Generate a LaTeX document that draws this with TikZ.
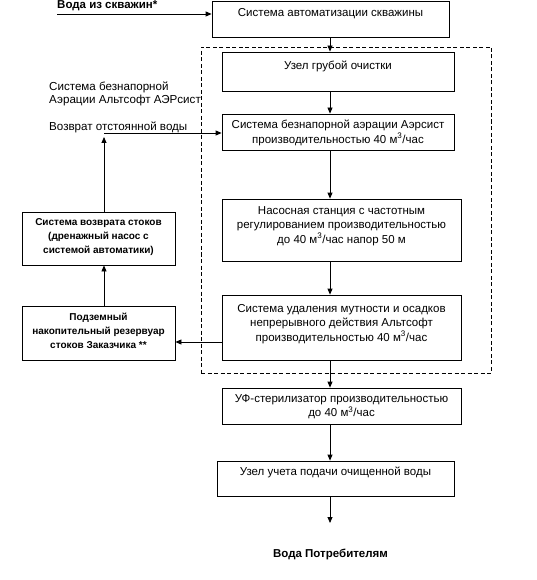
\documentclass[tikz,border=0pt]{standalone}
\usepackage{fontspec}
\setmainfont{Liberation Sans}
\usetikzlibrary{arrows.meta}
\begin{document}
\begin{tikzpicture}[x=1pt,y=-1pt,
  box/.style={draw, line width=0.8pt, inner sep=0pt},
  txt/.style={align=center, inner sep=0pt, font=\fontsize{11.5}{14.3}\selectfont},
  btxt/.style={align=center, inner sep=0pt, font=\fontsize{10}{14}\selectfont\bfseries},
  bigb/.style={inner sep=0pt, font=\fontsize{11.5}{14}\selectfont\bfseries},
  arr/.style={line width=0.8pt, -{Triangle[length=6pt,width=5pt]}}]
\useasboundingbox (0,0) rectangle (536,580);
% dashed frame
\node[box, dashed, dash pattern=on 4pt off 2.5pt, minimum width=290pt, minimum height=326pt] (frame) at (346,210) {};
% boxes
\node[box, minimum width=237pt, minimum height=36pt] (top) at (330.5,19) {};
\node[box, minimum width=232pt, minimum height=39pt] (grub) at (338,71.5) {};
\node[box, minimum width=232pt, minimum height=36pt] (aer) at (338,132) {};
\node[box, minimum width=239pt, minimum height=62pt] (nas) at (341.5,230) {};
\node[box, minimum width=239pt, minimum height=65pt] (udal) at (341.5,327.5) {};
\node[box, minimum width=239pt, minimum height=36pt] (uf) at (341.5,406) {};
\node[box, minimum width=237pt, minimum height=35pt] (uch) at (335.5,478.5) {};
\node[box, minimum width=153pt, minimum height=53pt] (ret) at (98.5,238.5) {};
\node[box, minimum width=153pt, minimum height=54pt] (tank) at (98.5,333) {};
% texts in boxes
\node[txt] (ttop) at (330.5,14) {Система автоматизации скважины};
\node[txt] (tgrub) at (338,66) {Узел грубой очистки};
\node[txt] (taer) at (338,133) {Система безнапорной аэрации Аэрсист\\производительностью 40 м\textsuperscript{3}/час};
\node[txt] (tnas) at (341.5,226) {Насосная станция с частотным\\регулированием производительностью\\до 40 м\textsuperscript{3}/час напор 50 м};
\node[txt] (tudal) at (341.5,324) {Система удаления мутности и осадков\\непрерывного действия Альтсофт\\производительностью 40 м\textsuperscript{3}/час};
\node[txt] (tuf) at (341.5,407) {УФ-стерилизатор производительностью\\до 40 м\textsuperscript{3}/час};
\node[txt] (tuch) at (335.5,472) {Узел учета подачи очищенной воды};
\node[btxt] (tret) at (98.5,237) {Система возврата стоков\\(дренажный насос с\\системой автоматики)};
\node[btxt] (ttank) at (98.5,331) {Подземный\\накопительный резервуар\\стоков Заказчика **};
% free labels
\node[bigb, anchor=west] (lsrc) at (57,6) {Вода из скважин*};
\node[txt, align=left, anchor=west, font=\fontsize{11.6}{12.7}\selectfont] (laer) at (49,94) {Система безнапорной\\Аэрации Альтсофт АЭРсист};
\node[txt, anchor=west, font=\fontsize{11.6}{14}\selectfont] (lret) at (49,127) {Возврат отстоянной воды};
\node[bigb] (lout) at (330.5,554) {Вода Потребителям};
% coordinates
\coordinate (src) at (57,14);
\coordinate (rc) at (104,133);
\coordinate (rup) at (104,137);
\coordinate (ut) at (222,342);
\coordinate (cend) at (330,523);
% connectors
\draw[arr] (src) -- (top.west |- src);
\draw[arr] (top.south -| cend) -- (grub.north -| cend);
\draw[arr] (grub.south -| cend) -- (aer.north -| cend);
\draw[arr] (aer.south -| cend) -- (nas.north -| cend);
\draw[arr] (nas.south -| cend) -- (udal.north -| cend);
\draw[arr] (udal.south -| cend) -- (uf.north -| cend);
\draw[arr] (uf.south -| cend) -- (uch.north -| cend);
\draw[arr] (uch.south -| cend) -- (cend);
\draw[arr] (ut) -- (tank.east |- ut);
\draw[arr] (tank.north -| rup) -- (ret.south -| rup);
\draw[arr] (ret.north -| rup) -- (rup);
\draw[arr] (rc) -- (aer.west |- rc);
\end{tikzpicture}
\end{document}
